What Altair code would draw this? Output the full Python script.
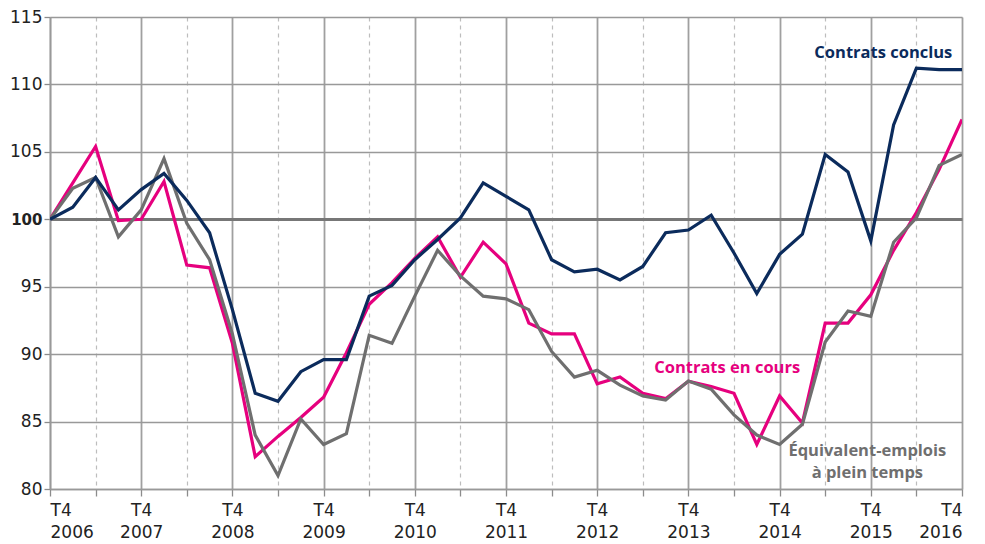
import altair as alt
import pandas as pd

years = list(range(2006, 2017))
conclus = [100.0, 100.9, 103.1, 100.7, 102.2, 103.4, 101.4, 99.0, 93.3, 87.1, 86.5,
           88.7, 89.6, 89.6, 94.3, 95.1, 97.0, 98.5, 100.1, 102.7, 101.7, 100.7,
           97.0, 96.1, 96.3, 95.5, 96.5, 99.0, 99.2, 100.3, 97.5, 94.5, 97.4,
           98.9, 104.8, 103.5, 98.4, 107.0, 111.2, 111.1, 111.1]
en_cours = [100.0, 102.7, 105.4, 99.9, 100.0, 102.8, 96.6, 96.4, 90.8, 82.4, 83.9,
            85.3, 86.8, 90.1, 93.7, 95.3, 97.1, 98.7, 95.7, 98.3, 96.7, 92.3,
            91.5, 91.5, 87.8, 88.3, 87.1, 86.7, 88.0, 87.6, 87.1, 83.3, 86.9,
            84.9, 92.3, 92.3, 94.4, 97.7, 100.5, 103.7, 107.4]
etp = [100.0, 102.3, 103.1, 98.7, 100.7, 104.5, 99.7, 97.0, 91.5, 84.0, 81.0,
       85.2, 83.3, 84.1, 91.4, 90.8, 94.3, 97.7, 95.8, 94.3, 94.1, 93.3,
       90.2, 88.3, 88.8, 87.7, 86.9, 86.6, 88.0, 87.4, 85.5, 84.0, 83.3,
       84.8, 90.9, 93.2, 92.8, 98.3, 100.1, 104.0, 104.8]
series_names = ["Contrats en cours", "Équivalent-emplois à plein temps", "Contrats conclus"]
colors = ["#e6007e", "#6f6f6f", "#0b2b5c"]

q = list(range(len(conclus)))
rows = []
for name, vals, order in zip(series_names, [en_cours, etp, conclus], [0, 1, 2]):
    for i, v in zip(q, vals):
        rows.append({"q": i, "v": v, "s": name, "o": order})
df = pd.DataFrame(rows)

first_year = years[0]
xscale = alt.Scale(domain=[0, 40], nice=False, zero=False)
yscale = alt.Scale(domain=[80, 115], nice=False, zero=False)

label_expr = ("datum.value % 4 === 0 ? ['T4', '' + (" + str(first_year)
              + " + datum.value / 4)] : ''")

xaxis = alt.Axis(
    values=q, title=None, grid=True,
    gridDash={"condition": {"test": "datum.value % 4 === 0", "value": [1, 0]}, "value": [4, 4]},
    gridColor={"condition": {"test": "datum.value % 4 === 0", "value": "#a0a0a0"}, "value": "#bdbdbd"},
    gridWidth={"condition": {"test": "datum.value % 4 === 0", "value": 1.8}, "value": 1.2},
    labelExpr=label_expr, labelOverlap=False, labelFont="DejaVu Sans", labelFontSize=17,
    labelColor="#222222", labelPadding=6, labelLineHeight=22,
    ticks=True, tickSize=7, tickColor="#8c8c8c", tickWidth=1.3,
    domainColor="#999999", domainWidth=1.6,
)
yaxis = alt.Axis(
    values=[80, 85, 90, 95, 100, 105, 110, 115], title=None, grid=True,
    gridColor={"condition": {"test": "datum.value === 100", "value": "#777777"}, "value": "#999999"},
    gridWidth={"condition": {"test": "datum.value === 100", "value": 2.8}, "value": 1.4},
    labelFont="DejaVu Sans", labelColor="#222222",
    labelFontSize={"condition": {"test": "datum.value === 100", "value": 15}, "value": 17},
    labelFontWeight={"condition": {"test": "datum.value === 100", "value": "bold"}, "value": "normal"},
    labelPadding=2, ticks=True, tickSize=6, tickColor="#8c8c8c", tickWidth=1.3,
    domainColor="#999999", domainWidth=1.6,
)

lines = alt.Chart(df).mark_line(strokeWidth=3.2, strokeJoin="miter", clip=True).encode(
    x=alt.X("q:Q", scale=xscale, axis=xaxis),
    y=alt.Y("v:Q", scale=yscale, axis=yaxis),
    color=alt.Color("s:N", scale=alt.Scale(domain=series_names, range=colors), legend=None),
    order=alt.Order("q:Q"),
    detail="o:N",
)

layers = []
for name in series_names:
    layers.append(lines.transform_filter(alt.datum.s == name))

labels = pd.DataFrame({
    "q": [36.55, 29.7, 35.85, 35.85],
    "v": [112.35, 89.0, 82.8, 81.2],
    "t": ["Contrats conclus", "Contrats en cours", "Équivalent-emplois", "à plein temps"],
    "c": [colors[2], colors[0], colors[1], colors[1]],
})
text = alt.Chart(labels).mark_text(font="Open Sans", fontWeight="bold", fontSize=16.5,
                                   align="center", baseline="middle").encode(
    x=alt.X("q:Q", scale=xscale),
    y=alt.Y("v:Q", scale=yscale),
    text="t:N",
    color=alt.Color("c:N", scale=None),
)

chart = alt.layer(*layers, text).properties(
    width=912, height=472,
    autosize=alt.AutoSizeParams(type="none"),
    padding={"left": 42, "top": 9, "right": 15, "bottom": 56},
).configure_view(stroke=None).configure(background="white")

chart.save("out.html", embed_options={"renderer": "svg", "actions": False})
